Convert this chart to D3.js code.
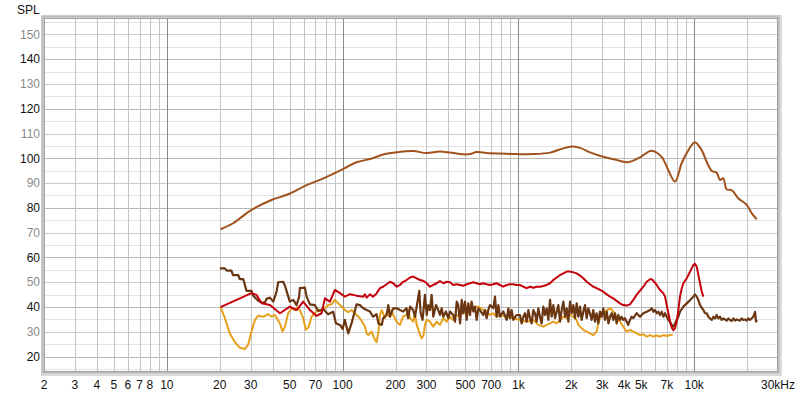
<!DOCTYPE html>
<html>
<head>
<meta charset="utf-8">
<script src="https://cdn.jsdelivr.net/npm/d3@7"></script>
<style>
  body { margin: 0; background: #fff; }
  text { font-family: "Liberation Sans", Arial, sans-serif; font-size: 12px; }
</style>
</head>
<body>
<div id="chart"></div>
<script>
// [Hz, dB] pairs
const mainResponse = [[20.2,71.4],[23.8,73.8],[30.3,79.2],[39.4,83.2],[49,85.5],[62.4,89.2],[77.6,91.9],[100.8,95.7],[120,98.4],[143,99.7],[174,101.7],[203,102.4],[252,102.9],[301,102.1],[358,102.7],[408,102.3],[487,101.6],[531,101.7],[579,102.5],[689,102.0],[786,101.9],[978,101.7],[1216,101.7],[1514,102.3],[1763,103.8],[1966,104.7],[2240,104.2],[2557,102.4],[3044,100.6],[3625,99.3],[4220,98.4],[4920,100.4],[5730,103.1],[6530,100.6],[7120,95.3],[7780,90.6],[8490,98.0],[9060,102.0],[10100,106.5],[11040,103.3],[11780,98.6],[12570,95.0],[13430,94.2],[14030,91.3],[14650,91.9],[15310,87.5],[16340,87.2],[17830,83.9],[19910,81.2],[21280,77.8],[22710,75.4]];

const redTrace = [[20.2,40.0],[30.3,45.6],[32.4,44.9],[34.6,41.5],[38.6,40.8],[44.0,37.5],[50.1,40.2],[54.7,38.8],[59.7,42.2],[65.2,38.8],[71.1,36.4],[75.9,37.5],[79.3,43.5],[84.7,42.2],[90.4,46.9],[96.6,45.6],[103,44.2],[110,45.2],[120,44.6],[131,44.2],[134,45.1],[137,43.8],[143,45.1],[149,44.2],[156,45.5],[163,47.6],[170,48.2],[178,49.2],[186,50.2],[194,49.6],[203,48.2],[212,48.9],[221,50.2],[231,50.9],[242,51.9],[252,52.3],[264,51.6],[276,50.9],[289,50.5],[301,49.6],[314,48.2],[328,48.9],[343,49.6],[358,50.5],[374,49.6],[391,50.2],[408,50.0],[426,48.9],[446,49.2],[466,48.9],[486,48.6],[508,49.2],[531,49.6],[554,50.0],[579,49.6],[604,49.2],[631,49.6],[660,49.2],[689,48.9],[720,49.2],[752,49.6],[786,48.9],[821,48.2],[858,48.9],[896,49.2],[936,49.2],[978,48.9],[1021,48.9],[1067,48.2],[1115,47.6],[1164,48.2],[1216,47.8],[1270,48.2],[1327,48.2],[1386,48.5],[1449,48.9],[1514,49.6],[1581,50.9],[1652,51.9],[1726,52.9],[1803,53.6],[1884,54.3],[1968,54.3],[2054,54.0],[2146,53.6],[2242,52.7],[2342,51.6],[2447,50.2],[2556,49.2],[2668,48.2],[2787,47.6],[2912,46.9],[3042,46.2],[3183,45.1],[3324,44.2],[3467,43.5],[3623,42.5],[3784,41.5],[3952,40.8],[4130,40.6],[4313,41.1],[4508,42.9],[4706,44.9],[5140,48.2],[5370,50.2],[5610,51.2],[5740,51.2],[5861,50.6],[6120,48.9],[6397,46.9],[6683,45.5],[6830,44.2],[6982,40.8],[7135,37.5],[7293,34.1],[7452,31.8],[7616,30.7],[7784,31.4],[7955,34.1],[8130,38.8],[8310,44.2],[8500,47.5],[8685,49.6],[9077,51.6],[9480,54.3],[9900,57.0],[10120,57.4],[10345,56.3],[10572,52.9],[10805,49.6],[11045,46.2],[11290,44.2]];

const goldTrace = [[20.2,40.0],[21.4,35.5],[22.8,29.4],[24.4,25.8],[26.0,23.6],[27.8,23.1],[29.0,24.7],[30.3,30.1],[31.7,34.8],[33.1,36.5],[35.4,36.1],[37.8,37.1],[39.4,36.1],[41.2,36.8],[44.0,33.4],[45.5,30.1],[47.0,32.1],[49.0,37.5],[51.3,39.5],[53.6,38.8],[55.2,39.8],[57.1,38.8],[59.7,35.5],[61.8,30.8],[63.8,31.7],[66.6,36.1],[69.5,37.5],[72.6,38.8],[75.9,38.4],[79.3,39.5],[82.8,40.8],[86.6,41.1],[90.4,42.9],[94.4,41.5],[98.7,40.2],[103,38.8],[107.6,37.9],[112.5,38.8],[117.5,37.5],[125.4,35.5],[131,33.4],[134,32.1],[137,29.4],[140,28.7],[146,30.1],[153,26.7],[156,25.8],[160,30.1],[163,36.8],[167,38.8],[174,35.5],[178,37.5],[186,36.1],[190,38.8],[194,36.8],[203,34.1],[212,32.8],[221,36.1],[231,36.8],[236,38.8],[242,35.5],[252,34.1],[258,37.5],[264,32.8],[270,30.8],[276,28.7],[282,27.4],[289,28.7],[294,32.8],[301,34.8],[314,34.1],[328,32.1],[343,34.1],[358,32.8],[374,35.5],[391,34.1],[408,36.1],[426,34.8],[446,36.8],[466,36.1],[486,38.2],[508,37.5],[531,39.5],[554,38.8],[579,40.2],[604,39.8],[631,38.8],[660,38.2],[689,36.8],[720,37.5],[752,36.1],[786,36.8],[858,36.1],[936,35.5],[1021,34.8],[1115,34.1],[1216,34.8],[1298,32.8],[1386,32.1],[1449,32.8],[1514,33.4],[1581,34.1],[1652,33.4],[1726,34.8],[1803,36.1],[1884,35.5],[1968,36.8],[2054,36.1],[2146,34.8],[2194,32.8],[2242,32.1],[2342,30.8],[2447,30.1],[2556,29.4],[2668,28.7],[2787,30.1],[2849,33.4],[2912,35.5],[3042,37.5],[3183,38.8],[3324,39.5],[3467,38.2],[3545,36.8],[3623,35.5],[3784,34.1],[3952,32.1],[4130,30.1],[4313,30.8],[4508,30.1],[4706,29.4],[4920,28.7],[5140,29.0],[5370,28.1],[5610,28.7],[5861,28.1],[6120,28.5],[6397,28.1],[6683,28.7],[6982,28.3],[7293,28.7],[7550,28.7]];

const brownTrace = [[20.03,55.6],[21.4,55.6],[21.9,54.7],[23.3,54.7],[23.8,52.9],[25.5,52.9],[26.0,51.3],[27.2,51.3],[27.8,48.9],[28.4,46.5],[30.3,46.5],[31.0,44.6],[33.1,42.5],[34.6,41.8],[36.1,41.8],[36.9,43.3],[38.6,43.8],[40.3,42.2],[42.1,46.2],[43.0,50.0],[45.9,50.2],[47.0,48.6],[48.4,45.6],[50.1,42.2],[52.4,42.9],[54.7,40.8],[56.6,44.2],[57.1,47.6],[61.0,47.8],[62.4,44.2],[65.2,41.1],[69.5,40.8],[72.6,38.4],[77.6,39.1],[82.8,37.1],[88.4,38.1],[91.6,33.5],[96.6,32.8],[100,31.2],[103,34.8],[107.6,29.4],[112.5,33.5],[120.1,41.1],[125.4,40.8],[131,39.5],[137,38.8],[143,38.2],[149,36.1],[156,37.1],[160,33.4],[167,32.8],[170,35.5],[178,36.8],[182,40.8],[186,36.1],[194,39.5],[203,39.5],[212,38.8],[221,38.2],[231,39.5],[236,35.5],[242,40.2],[252,38.8],[258,36.1],[264,40.2],[273,46.5],[278,37.5],[285,34.8],[294,44.9],[301,36.8],[307,40.8],[314,38.8],[321,44.9],[328,36.1],[340,40.8],[350,38.8],[358,36.8],[366,39.5],[374,36.1],[387,38.2],[399,35.5],[408,38.2],[426,36.8],[436,34.1],[446,42.2],[455,40.8],[466,33.4],[476,42.9],[486,37.5],[497,42.2],[508,34.8],[519,41.5],[531,36.8],[542,42.2],[554,38.2],[566,40.2],[579,34.8],[592,39.5],[604,38.8],[631,36.8],[645,38.8],[660,35.5],[674,38.8],[689,40.8],[720,39.5],[736,44.2],[752,36.1],[769,40.8],[786,36.1],[821,38.2],[858,34.8],[877,39.5],[896,35.5],[916,38.8],[936,34.8],[978,36.8],[1021,36.8],[1044,33.4],[1067,36.1],[1090,37.5],[1115,34.1],[1140,38.8],[1164,35.5],[1190,33.4],[1216,38.8],[1243,37.5],[1270,34.1],[1298,39.5],[1327,36.1],[1356,33.4],[1386,40.2],[1417,36.8],[1449,39.5],[1481,34.8],[1514,42.9],[1547,36.1],[1581,40.8],[1616,35.5],[1652,38.2],[1688,40.8],[1726,34.1],[1764,38.8],[1803,42.2],[1843,36.1],[1884,39.5],[1925,34.1],[1968,42.2],[2011,37.5],[2054,40.8],[2100,35.5],[2146,41.5],[2194,36.1],[2242,40.2],[2291,34.8],[2342,38.2],[2394,40.8],[2447,35.5],[2501,39.5],[2556,37.5],[2612,34.8],[2668,38.8],[2727,34.1],[2787,37.5],[2849,33.4],[2912,38.2],[2976,36.1],[3042,39.5],[3109,34.8],[3183,38.2],[3253,33.4],[3324,36.1],[3397,37.5],[3467,34.8],[3545,37.5],[3623,33.4],[3703,36.8],[3784,34.8],[3867,36.1],[3952,34.8],[4040,35.5],[4130,34.1],[4220,32.8],[4313,34.8],[4408,36.1],[4508,35.5],[4706,37.5],[4920,36.1],[5140,37.5],[5370,38.1],[5610,38.8],[5740,39.5],[5861,38.1],[5990,38.8],[6120,37.5],[6257,38.1],[6397,36.8],[6540,38.1],[6683,36.1],[6830,37.5],[6982,36.1],[7135,34.8],[7293,34.1],[7452,32.8],[7616,32.1],[7784,33.4],[7955,34.8],[8130,36.1],[8310,38.1],[8685,40.2],[9077,41.5],[9480,42.8],[9900,44.2],[10120,45.1],[10345,44.2],[10572,42.8],[10805,40.8],[11290,38.8],[11540,37.5],[11800,37.5],[12050,36.1],[12320,35.4],[12590,34.8],[12870,36.1],[13150,35.4],[13440,36.8],[13740,35.4],[14040,36.1],[14350,34.8],[14670,35.4],[14990,35.0],[15330,34.5],[15660,35.4],[16000,34.8],[16370,34.4],[16730,35.4],[17100,34.5],[17470,35.0],[17840,34.8],[18240,34.5],[18640,35.4],[19050,34.8],[19470,35.0],[19900,34.5],[20330,35.4],[20790,34.8],[21240,35.4],[21710,36.1],[22210,38.1],[22500,34.1],[22710,34.8]];

const xTickLabels = [2,3,4,5,6,7,8,10,20,30,50,70,100,200,300,500,700,1000,2000,3000,4000,5000,7000,10000];
const xGridValues = [2,3,4,5,6,7,8,9,10,20,30,40,50,60,70,80,90,100,200,300,400,500,600,700,800,900,1000,2000,3000,4000,5000,6000,7000,8000,9000,10000,20000];
const yTickLabels = [20,30,40,50,60,70,80,90,100,110,120,130,140,150];

const series = [
  {data: goldTrace,    color: "#e6a01c", width: 2},
  {data: brownTrace,   color: "#6b3712", width: 2.2},
  {data: redTrace,     color: "#c4000c", width: 2},
  {data: mainResponse, color: "#a0521e", width: 2}
];

const width = 800, height = 397;
const plot = {left: 44, right: 778, top: 18, bottom: 372};

const svg = d3.select("#chart").append("svg")
  .attr("width", width)
  .attr("height", height);

const x = d3.scaleLog().domain([2, 30000]).range([plot.left, plot.right]);
const y = d3.scaleLinear().domain([13.8, 156.6]).range([plot.bottom, plot.top]);

// frame: soft shadow band plus a darker inner edge
svg.append("rect")
  .attr("x", plot.left - 1.5).attr("y", plot.top - 1.5)
  .attr("width", plot.right - plot.left + 4).attr("height", plot.bottom - plot.top + 4)
  .attr("fill", "none").attr("stroke", "#dadada").attr("stroke-width", 3);
svg.append("rect")
  .attr("x", plot.left - 1.5).attr("y", plot.top - 1.5)
  .attr("width", plot.right - plot.left + 2).attr("height", plot.bottom - plot.top + 2)
  .attr("fill", "none").attr("stroke", "#bcbcbc").attr("stroke-width", 2);

const grid = svg.append("g");

// horizontal grid every 5 dB
d3.range(15, 156, 5).forEach(v => {
  let col = "#e2e2e2";
  if (v % 20 === 0) col = "#b8b8b8";
  else if (v % 10 === 0) col = "#cbcbcb";
  grid.append("line")
    .attr("x1", plot.left).attr("x2", plot.right)
    .attr("y1", Math.round(y(v)) + 0.5).attr("y2", Math.round(y(v)) + 0.5)
    .attr("stroke", col).attr("stroke-width", 1);
});

// vertical grid, decades darker
xGridValues.forEach(f => {
  const isDecade = Math.abs(Math.log10(f) - Math.round(Math.log10(f))) < 1e-9 && f >= 10;
  grid.append("line")
    .attr("x1", Math.round(x(f)) + 0.5).attr("x2", Math.round(x(f)) + 0.5)
    .attr("y1", plot.top).attr("y2", plot.bottom)
    .attr("stroke", isDecade ? "#8a8a8a" : "#c4c4c4").attr("stroke-width", 1);
});

svg.append("rect")
  .attr("x", plot.left + 0.5).attr("y", plot.top + 0.5)
  .attr("width", plot.right - plot.left - 1).attr("height", plot.bottom - plot.top - 1)
  .attr("fill", "none").attr("stroke", "#a0a0a0").attr("stroke-width", 1);

svg.append("clipPath").attr("id", "clip")
  .append("rect")
  .attr("x", plot.left).attr("y", plot.top)
  .attr("width", plot.right - plot.left).attr("height", plot.bottom - plot.top);

const line = d3.line()
  .x(d => x(d[0]))
  .y(d => y(d[1]));

const lines = svg.append("g").attr("clip-path", "url(#clip)");
series.forEach(s => {
  lines.append("path")
    .datum(s.data)
    .attr("fill", "none")
    .attr("stroke", s.color)
    .attr("stroke-width", s.width)
    .attr("stroke-linejoin", "round")
    .attr("d", s.data === mainResponse ? line.curve(d3.curveCatmullRom)(s.data) : line.curve(d3.curveLinear)(s.data));
});

// y axis labels
yTickLabels.forEach(v => {
  svg.append("text")
    .attr("x", 40).attr("y", y(v))
    .attr("dy", "0.35em")
    .attr("text-anchor", "end")
    .attr("fill", v % 20 === 0 ? "#111" : "#8c8c8c")
    .text(v);
});

svg.append("text")
  .attr("x", 17).attr("y", 14)
  .attr("fill", "#111")
  .text("SPL");

// x axis labels
const fmt = f => f >= 1000 ? (f / 1000) + "k" : String(f);
xTickLabels.forEach(f => {
  svg.append("text")
    .attr("x", x(f)).attr("y", 389)
    .attr("text-anchor", "middle")
    .attr("fill", "#111")
    .text(fmt(f));
});
svg.append("text")
  .attr("x", x(30000)).attr("y", 389)
  .attr("text-anchor", "middle")
  .attr("fill", "#111")
  .text("30kHz");
</script>
</body>
</html>
